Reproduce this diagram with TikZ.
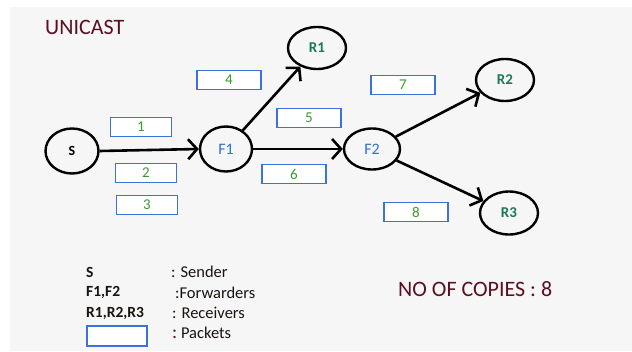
\documentclass[tikz,border=0pt]{standalone}
\usepackage{fontspec}
\setmainfont{Carlito}
\usetikzlibrary{arrows.meta,shapes.geometric}
\definecolor{panel}{HTML}{F6F6F6}
\definecolor{titlered}{HTML}{5A1020}
\definecolor{pktblue}{HTML}{3D72D8}
\definecolor{numgreen}{HTML}{3A9A30}
\definecolor{fwdblue}{HTML}{2F6FD6}
\definecolor{rcvgreen}{HTML}{1A7A55}
\definecolor{legendtxt}{HTML}{1A1410}
\tikzset{
  hostnode/.style={draw=black, line width=2.4pt, ellipse, minimum width=#1, inner sep=0pt},
  packet/.style={draw=pktblue, fill=white, line width=1.1pt, minimum width=61pt, minimum height=19pt,
    inner sep=0pt, text=numgreen, font=\fontsize{15}{15}\selectfont},
  link/.style={line width=2.6pt, black, -{Straight Barb[length=9pt,width=20pt,line width=2.6pt]}},
  legend/.style={anchor=west, text=legendtxt, font=\fontsize{16.5}{17}\selectfont, inner sep=0pt},
  legendkey/.style={legend, font=\bfseries\fontsize{15.5}{16}\selectfont}
}
\begin{document}
\begin{tikzpicture}[x=1pt,y=-1pt]
  \useasboundingbox (0,0) rectangle (632,351);
  \fill[white] (0,0) rectangle (632,351);
  \fill[panel] (10,7) rectangle (632,351);

  \node[anchor=west, text=titlered, font=\fontsize{22}{22}\selectfont, inner sep=0pt] (title) at (45,27) {UNICAST};

  % hosts
  \node[hostnode=53pt, minimum height=45pt, font=\bfseries\fontsize{14}{14}\selectfont] (S) at (72,151) {S};
  \node[hostnode=52pt, minimum height=45pt, text=fwdblue, font=\fontsize{16}{16}\selectfont] (F1) at (226,149) {F1};
  \node[hostnode=56pt, minimum height=41pt, text=fwdblue, font=\fontsize{16}{16}\selectfont] (F2) at (372,149) {F2};
  \node[hostnode=58pt, minimum height=42pt, text=rcvgreen, font=\bfseries\fontsize{15}{15}\selectfont] (R1) at (317,48) {R1};
  \node[hostnode=58pt, minimum height=42pt, text=rcvgreen, font=\bfseries\fontsize{15}{15}\selectfont] (R2) at (505,80) {R2};
  \node[hostnode=58pt, minimum height=43pt, text=rcvgreen, font=\bfseries\fontsize{15}{15}\selectfont] (R3) at (509,213) {R3};

  % links
  \draw[link] (S.east) -- (F1.west);
  \draw[link] (F1) -- (R1);
  \draw[link] (F1.east) -- (F2.west);
  \draw[link] (F2) -- (R2);
  \draw[link] (F2) -- (R3);

  % packets
  \node[packet] (p1) at (141,127) {1};
  \node[packet] (p2) at (146,173) {2};
  \node[packet] (p3) at (147,205) {3};
  \node[packet, minimum width=64pt] (p4) at (229,80) {4};
  \node[packet, minimum width=64pt] (p5) at (309,118) {5};
  \node[packet, minimum width=64pt] (p6) at (294,174) {6};
  \node[packet, minimum width=64pt] (p7) at (403,85) {7};
  \node[packet, minimum width=64pt] (p8) at (416,212) {8};

  % legend
  \node[legendkey] (lS) at (86,272) {S};
  \node[legendkey] (lF) at (86,292) {F1,F2};
  \node[legendkey] (lR) at (86,313) {R1,R2,R3};
  \node[packet, minimum width=60pt, minimum height=20pt] (lP) at (117,336) {};
  \node[legend] (dS) at (171,272) {: Sender};
  \node[legend] (dF) at (175,293) {:Forwarders};
  \node[legend] (dR) at (172,313) {: Receivers};
  \node[legend] (dP) at (172,333) {\textcolor{titlered}{\fontsize{19}{19}\selectfont :}\ Packets};

  \node[anchor=west, text=titlered, font=\fontsize{22}{22}\selectfont, inner sep=0pt] (copies) at (398,289) {NO OF COPIES : 8};
\end{tikzpicture}
\end{document}
